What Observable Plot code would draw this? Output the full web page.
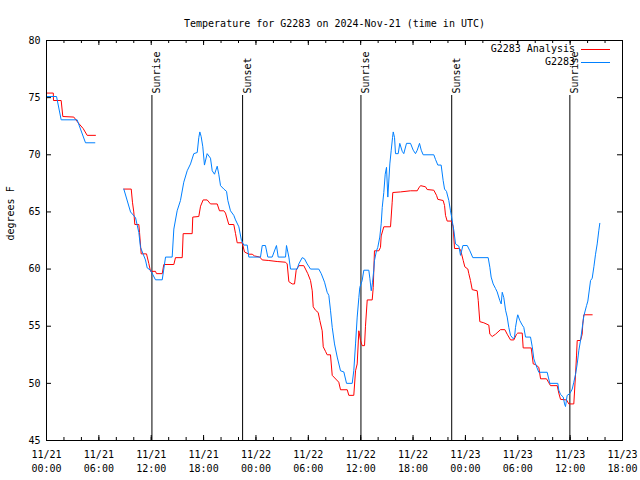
<!DOCTYPE html>
<html><head><meta charset="utf-8">
<script src="https://cdn.jsdelivr.net/npm/d3@7"></script>
<script src="https://cdn.jsdelivr.net/npm/@observablehq/plot@0.6"></script>
<style>body{margin:0;background:#fff}</style>
</head><body><div id="chart"></div>
<script>
const title = "Temperature for G2283 on 2024-Nov-21 (time in UTC)";
const yLabel = "degrees F";
const seriesNames = ["G2283 Analysis", "G2283"];
const seriesColors = ["#ff0000", "#0080ff"];
const startTime = "2024-11-21T00:00:00Z";
const endTime = "2024-11-23T18:00:00Z";
const yTicks = [45, 50, 55, 60, 65, 70, 75, 80];

// hours since start, and temperature (°F); NaN marks a data gap
const analysisHours = [0.0,0.78,0.8,1.68,1.87,3.13,3.63,4.2,4.66,5.61,7,
8.86,9.71,9.85,10.0,10.12,10.58,10.66,10.85,11.46,11.72,11.92,12.49,12.6,13.26,13.44,14.59,14.78,15.55,15.66,16.69,16.76,17.45,17.65,17.95,18.41,18.79,19.56,19.82,20.32,20.51,20.89,21.46,21.66,21.85,22.42,22.69,23.18,23.57,23.83,24.44,24.72,25.47,26.43,27.39,27.58,27.77,28.15,28.42,28.61,28.91,29.48,29.68,29.94,30.25,30.45,30.56,30.82,31.13,31.32,31.59,31.71,31.97,32.16,32.54,32.74,33.49,33.69,34.46,34.64,35.21,35.41,35.6,35.79,35.98,36.17,36.44,36.55,36.75,37.32,37.44,37.58,38.08,38.27,38.35,38.65,39.42,39.61,39.68,40.56,41.71,42.48,42.66,42.86,43.43,43.62,44.38,44.69,44.84,45.45,45.61,45.72,45.91,46.41,46.6,46.75,47.25,47.44,47.75,47.93,48.28,48.39,48.58,48.78,49.35,49.47,49.65,50.11,50.68,50.8,51.07,51.45,52.02,52.52,52.79,53.17,53.55,53.86,54.0,54.51,54.62,55.54,55.77,56.03,56.41,56.61,57.29,57.56,57.75,58.52,58.7,58.9,59.59,59.85,60.42,60.62,60.73,60.81,61.19,61.38,61.45,61.57,62.53];
const analysisTemps = [75.4,75.4,74.75,74.75,73.35,73.3,72.8,72.3,71.7,71.7,NaN,
67.0,67.0,65.85,65.0,63.9,63.9,63.2,61.33,61.33,60.5,59.8,59.8,59.6,59.6,60.4,60.4,61.0,61.0,63.1,63.1,64.55,64.6,65.5,66.05,66.05,65.7,65.7,65.1,65.1,64.9,63.9,63.9,63.1,62.3,62.3,61.5,61.3,61.3,61.15,61.05,60.8,60.75,60.66,60.6,60.45,58.9,58.7,58.7,59.9,60.3,60.3,60.0,59.6,59.0,58.1,56.7,56.4,56.2,55.5,54.6,53.2,52.8,52.5,52.5,50.7,50.1,49.44,49.44,48.95,48.95,51.1,51.7,54.6,53.75,53.3,53.3,55.0,57.3,57.3,58.4,61.6,61.6,61.9,62.9,63.7,63.7,65.85,66.7,66.75,66.85,66.85,67.1,67.3,67.2,66.96,66.9,66.45,66.1,66.0,65.56,64.7,64.2,64.2,63.7,61.8,61.8,61.7,60.75,60.2,60.0,59.6,59.0,58.2,58.1,57.25,55.4,55.3,55.1,54.3,54.1,54.3,54.7,54.7,54.3,53.8,53.8,54.3,54.4,54.4,53.1,53.1,51.7,51.65,51.4,50.4,50.4,50.05,49.8,49.8,49.14,48.6,48.55,48.2,48.2,50.8,52.4,53.75,53.75,54.3,55.2,56.0,56.0];

const obsHours = [0.0,1.15,1.68,3.51,4.47,5.54,7,
8.86,9.63,10.2,10.58,10.77,11.34,11.54,11.92,12.49,13.26,13.64,14.4,14.59,14.97,15.35,15.73,16.12,16.5,16.88,17.27,17.45,17.57,17.72,17.91,18.1,18.41,18.79,18.99,19.25,19.56,19.74,19.94,20.32,20.63,20.78,21.08,21.46,21.66,22.04,22.34,22.61,23.0,23.18,24.52,24.72,25.09,25.36,25.86,26.35,26.55,27.39,27.5,27.77,27.96,28.73,28.91,29.3,29.56,29.87,30.25,31.2,31.48,31.86,32.16,32.35,32.54,32.74,33.0,33.31,33.69,34.07,34.38,35.03,35.21,35.41,35.6,35.79,35.9,36.17,36.36,36.93,37.05,37.21,37.35,37.5,37.58,37.81,37.96,38.19,38.35,38.47,38.65,38.81,38.96,39.11,39.34,39.5,39.65,39.73,39.88,39.99,40.3,40.48,40.76,40.94,41.25,41.71,42.02,42.28,42.48,42.74,42.94,43.16,44.38,44.57,44.84,45.22,45.45,45.61,45.83,46.1,46.29,46.41,46.6,46.67,46.87,47.25,47.44,47.71,48.21,48.51,48.85,50.61,50.8,50.95,51.18,51.45,51.64,51.94,52.1,52.22,52.4,52.6,52.79,52.97,53.17,53.48,53.63,53.74,53.94,54.0,54.23,54.51,54.69,54.89,55.46,55.66,55.84,56.03,56.41,57.37,57.67,58.59,58.7,58.9,59.21,59.36,59.47,59.66,59.96,60.24,60.42,60.62,60.81,61.0,61.19,61.57,61.88,62.03,62.34,62.53,62.72,62.91,63.1,63.29,63.4];
const obsTemps = [75.1,75.1,73.06,73.06,71.05,71.05,NaN,
67.0,65.0,64.5,63.2,61.9,60.8,60.1,59.9,59.06,59.06,61.05,61.05,63.5,65.1,66.0,67.6,68.6,69.2,70.1,70.2,71.5,72.0,71.6,70.7,69.1,70.1,69.7,68.6,68.3,69.0,68.3,67.3,67.0,66.8,66.0,65.1,64.7,64.3,63.7,62.5,62.1,62.1,61.05,61.05,62.06,62.06,61.05,61.05,62.06,61.05,61.05,62.06,61.05,60.0,60.0,60.45,61.0,60.9,60.45,60.0,60.0,59.6,58.85,57.97,57.7,56.4,54.9,53.45,52.3,51.1,51.0,50.0,50.0,51.1,53.45,55.8,57.5,58.4,59.0,59.9,59.9,59.2,58.1,58.8,59.9,60.75,61.6,61.9,62.8,63.96,65.4,66.7,68.3,68.9,66.3,69.2,70.4,71.5,72.0,71.5,70.1,70.1,71.0,70.3,70.1,71.0,71.0,70.4,70.1,70.4,71.0,70.4,70.0,70.0,69.6,69.1,69.1,67.75,67.0,66.8,66.0,65.1,64.6,63.7,63.4,62.2,62.0,61.2,62.06,62.06,61.6,61.0,61.0,60.16,59.3,58.7,58.3,58.0,57.25,56.95,57.97,57.5,56.4,55.8,54.9,54.2,53.9,54.05,54.9,55.8,56.0,55.5,55.1,54.9,54.05,54.05,53.2,52.15,51.7,50.97,50.97,50.0,50.0,49.4,49.03,48.8,48.2,47.97,48.95,49.1,49.5,50.1,50.8,51.7,52.9,53.75,55.9,56.8,57.2,59.0,59.2,60.2,61.3,62.2,63.4,64.0];

const eventLabels = ["Sunrise", "Sunset", "Sunrise", "Sunset", "Sunrise"];
const eventHours = [12.08, 22.47, 36.03, 46.43, 59.97];

const t0 = new Date(startTime), t1 = new Date(endTime);
const toDate = h => new Date(+t0 + h * 3600e3);
const analysis = analysisHours.map((h, i) => ({t: toDate(h), v: analysisTemps[i]}));
const obs = obsHours.map((h, i) => ({t: toDate(h), v: obsTemps[i]}));
const events = eventHours.map((h, i) => ({t: toDate(h), label: eventLabels[i]}));

const W = 640, H = 480, mL = 46, mR = 18, mT = 40, mB = 40;
const fw = W - mL - mR, fh = H - mT - mB;
const majorX = d3.utcHour.every(6).range(t0, new Date(+t1 + 1));
const minorX = d3.utcHour.every(2).range(t0, new Date(+t1 + 1));
const font = "DejaVu Sans Mono, monospace";

const svg = Plot.plot({
  width: W, height: H,
  marginLeft: mL, marginRight: mR, marginTop: mT, marginBottom: mB,
  style: {fontFamily: font, fontSize: "10px", background: "#fff", color: "#000"},
  x: {type: "utc", domain: [t0, t1]},
  y: {domain: [45, 80]},
  marks: [
    // inward ticks
    Plot.ruleX(minorX, {x: d => d, insetTop: fh - 3, stroke: "#000"}),
    Plot.ruleX(minorX, {x: d => d, insetBottom: fh - 3, stroke: "#000"}),
    Plot.ruleX(majorX, {x: d => d, insetTop: fh - 5, stroke: "#000"}),
    Plot.ruleX(majorX, {x: d => d, insetBottom: fh - 5, stroke: "#000"}),
    Plot.ruleY(yTicks, {y: d => d, insetRight: fw - 5, stroke: "#000"}),
    Plot.ruleY(yTicks, {y: d => d, insetLeft: fw - 5, stroke: "#000"}),
    Plot.axisX({ticks: majorX, tickSize: 0, tickPadding: 8, label: null,
      tickFormat: d3.utcFormat("%m/%d\n%H:%M"), lineHeight: 1.35, fill: "#000"}),
    Plot.axisY({ticks: yTicks, tickSize: 0, tickPadding: 6, label: null, fill: "#000"}),
    // sunrise / sunset
    Plot.ruleX(events, {x: "t", insetTop: 55, stroke: "#000"}),
    Plot.text(events, {x: "t", text: "label", frameAnchor: "top", dy: 53, rotate: -90,
      textAnchor: "start", dx: 1, fill: "#000"}),
    // data
    Plot.line(analysis, {x: "t", y: "v", stroke: seriesColors[0], strokeWidth: 1}),
    Plot.line(obs, {x: "t", y: "v", stroke: seriesColors[1], strokeWidth: 1}),
    Plot.frame({stroke: "#000"}),
    Plot.text([title], {frameAnchor: "top", dy: -21, fill: "#000"}),
    Plot.text([yLabel], {frameAnchor: "left", dx: -36, rotate: -90, fill: "#000"})
  ]
});

// legend (top-right, inside the frame)
const lg = d3.select(svg).append("g").attr("font-family", font).attr("font-size", 10);
seriesNames.forEach((name, i) => {
  const y = 49 + i * 13;
  lg.append("text").attr("x", 575).attr("y", y).attr("dy", "0.32em")
    .attr("text-anchor", "end").attr("fill", "#000").text(name);
  lg.append("line").attr("x1", 581).attr("x2", 610).attr("y1", y + 0.5).attr("y2", y + 0.5)
    .attr("stroke", seriesColors[i]).attr("stroke-width", 1);
});
document.getElementById("chart").append(svg);
</script></body></html>
